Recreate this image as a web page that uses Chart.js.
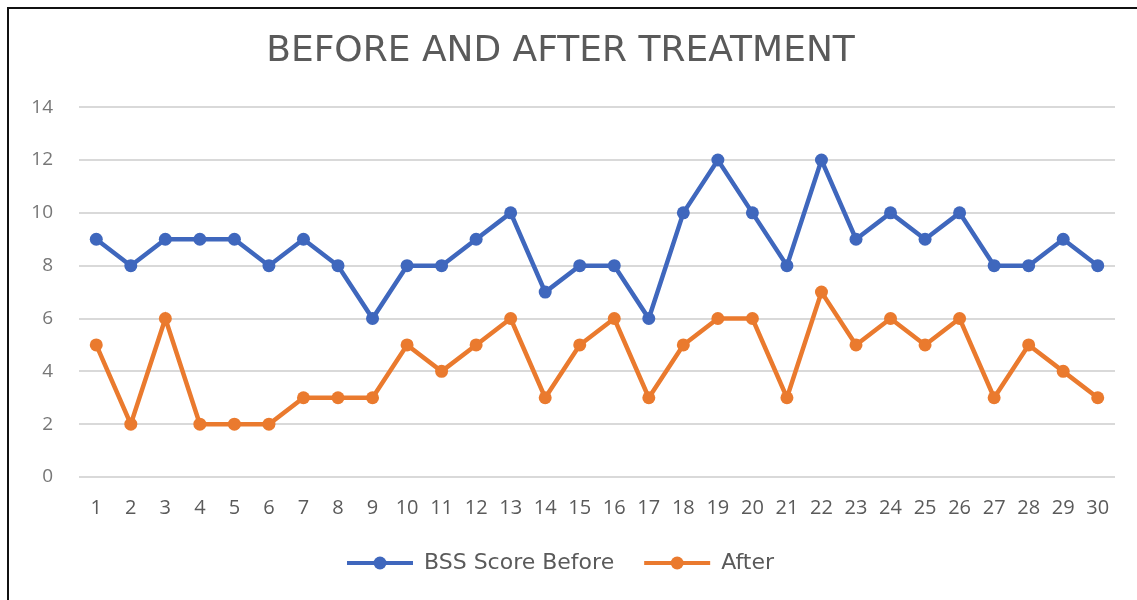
<!DOCTYPE html>
<html>
<head>
<meta charset="utf-8">
<script src="https://cdn.jsdelivr.net/npm/chart.js@4"></script>
<style>
  html, body { margin: 0; padding: 0; background: #fff; }
  #frame {
    position: absolute; left: 7px; top: 7px; width: 1130px; height: 593px;
    border-left: 2px solid #111; border-top: 2px solid #111; box-sizing: border-box;
  }
  #wrap { position: absolute; left: 0; top: 0; width: 1137px; height: 600px; }
</style>
</head>
<body>
<div id="frame"></div>
<div id="wrap"><canvas id="chart"></canvas></div>
<script>
const labels = Array.from({ length: 30 }, (_, i) => String(i + 1));

const before = [9, 8, 9, 9, 9, 8, 9, 8, 6, 8, 8, 9, 10, 7, 8, 8, 6, 10, 12, 10, 8, 12, 9, 10, 9, 10, 8, 8, 9, 8];
const after  = [5, 2, 6, 2, 2, 2, 3, 3, 3, 5, 4, 5, 6, 3, 5, 6, 3, 5, 6, 6, 3, 7, 5, 6, 5, 6, 3, 5, 4, 3];

const yTicks = [0, 2, 4, 6, 8, 10, 12, 14];

const BLUE = "#3f67bd";
const ORANGE = "#ea7a2e";
const TEXT = "#5a5a5a";
const FONT = "'Open Sans', 'Noto Sans', sans-serif";
const WIDE = "'DejaVu Sans', sans-serif";

function series(label, data, color) {
  return {
    label,
    data,
    borderColor: color,
    backgroundColor: color,
    borderWidth: 4.5,
    pointRadius: 6.5,
    pointHoverRadius: 6.5,
    pointBorderWidth: 0,
    tension: 0
  };
}

new Chart(document.getElementById("chart"), {
  type: "line",
  data: {
    labels,
    datasets: [
      series("BSS Score Before", before, BLUE),
      series("After", after, ORANGE)
    ]
  },
  options: {
    responsive: true,
    maintainAspectRatio: false,
    animation: false,
    layout: { padding: { left: 6, right: 22, top: 22, bottom: 16 } },
    plugins: {
      title: {
        display: true,
        text: "BEFORE AND AFTER TREATMENT",
        color: TEXT,
        font: { family: WIDE, size: 36, weight: "normal" },
        padding: { top: 8, bottom: 34 }
      },
      legend: {
        position: "bottom",
        labels: {
          color: TEXT,
          font: { family: WIDE, size: 22, lineHeight: 1 },
          boxWidth: 66,
          boxHeight: 4,
          padding: 30,
          generateLabels(chart) {
            return chart.data.datasets.map((ds, i) => ({
              text: ds.label,
              fontColor: TEXT,
              fillStyle: ds.borderColor,
              strokeStyle: ds.borderColor,
              lineWidth: 0,
              datasetIndex: i
            }));
          }
        }
      },
      tooltip: { enabled: false }
    },
    scales: {
      x: {
        offset: true,
        afterFit(axis) {
          axis.height = 45;
        },
        grid: { display: false },
        border: { display: false },
        ticks: {
          color: TEXT,
          font: { family: FONT, size: 20 },
          padding: 11,
          maxRotation: 0,
          autoSkip: false
        }
      },
      y: {
        min: 0,
        max: 14,
        afterBuildTicks(axis) {
          axis.ticks = yTicks.map(v => ({ value: v }));
        },
        afterFit(axis) {
          axis.width = 73;
        },
        grid: { color: "#d9d9d9", lineWidth: 2, drawTicks: false },
        border: { display: false },
        ticks: {
          color: "#777",
          font: { family: FONT, size: 19 },
          padding: 26
        }
      }
    }
  },
  plugins: [{
    // point marker in the middle of each legend line
    id: "legendDots",
    afterDraw(chart) {
      const legend = chart.legend;
      if (!legend || !legend.legendHitBoxes) return;
      const ctx = chart.ctx;
      const boxWidth = legend.options.labels.boxWidth;
      legend.legendHitBoxes.forEach((box, i) => {
        const ds = chart.data.datasets[i];
        ctx.save();
        ctx.fillStyle = ds.borderColor;
        ctx.beginPath();
        ctx.arc(box.left + boxWidth / 2, box.top + box.height / 2, 6.5, 0, Math.PI * 2);
        ctx.fill();
        ctx.restore();
      });
    }
  }]
});
</script>
</body>
</html>
